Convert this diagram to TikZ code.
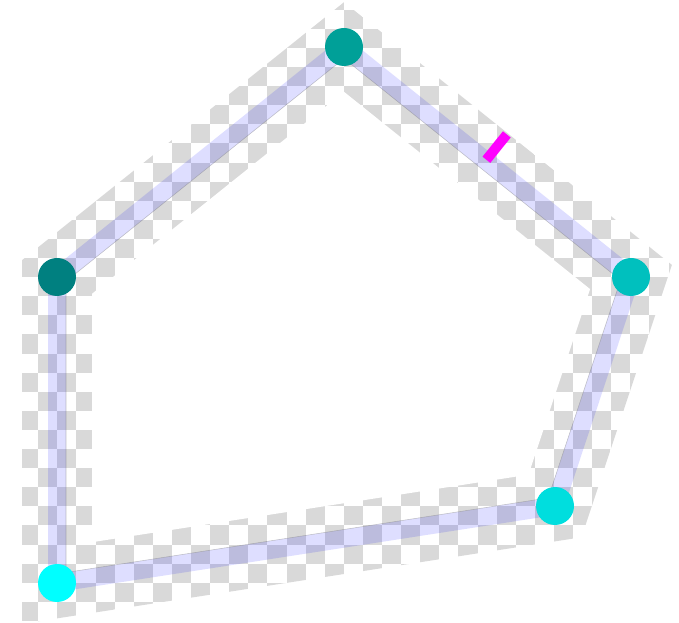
\documentclass[tikz,border=0pt]{standalone}
\definecolor{chk}{RGB}{217,217,217}
\definecolor{dotE}{RGB}{0,128,128}
\definecolor{dotA}{RGB}{0,160,152}
\definecolor{dotB}{RGB}{0,192,190}
\definecolor{dotC}{RGB}{0,222,222}
\definecolor{dotD}{RGB}{0,255,255}
\definecolor{tickcol}{RGB}{255,0,255}
\definecolor{lavcol}{RGB}{0,0,255}
\begin{document}
\begin{tikzpicture}[x=0.75pt,y=-0.75pt,
  checker/.style={fill=chk},
  lav/.style={draw=lavcol,opacity=0.13,line width=13.5pt,line join=round},
  rim/.style={draw=gray,opacity=0.45,line width=0.4pt},
  dot/.style={circle,inner sep=0pt,minimum size=28.5pt,draw=none},
  tickmark/.style={draw=tickcol,line width=7.5pt}]
\useasboundingbox (0,0) rectangle (679,623);
% vertices
\coordinate (a) at (344,47);
\coordinate (b) at (631,277);
\coordinate (c) at (555,506);
\coordinate (d) at (57,583);
\coordinate (e) at (57,277);
% checkered band
\begin{scope}
  \clip (344,2.2) -- (671.9,264.9) -- (581.5,537.3) -- (22,623.8) -- (22,260.2) -- cycle;
  \foreach \i in {0,...,35}{
    \foreach \j in {-1,...,32}{
      \pgfmathparse{int(mod(\i+\j,2))}
      \ifnum\pgfmathresult=0
        \fill[checker] (\i*19.1, 9.8+\j*19.1) rectangle ++(19.1,19.1);
      \fi
    }
  }
\end{scope}
\fill[white] (344,91.8) -- (590.1,289.1) -- (528.5,474.7) -- (92,542.2) -- (92,293.8) -- cycle;
% translucent outline
\draw[lav] (a) -- (b) -- (c) -- (d) -- (e) -- cycle;
\draw[rim] (344,58.5) -- (620.5,280.1) -- (548.2,497.9) -- (66,572.5) -- (66,281.3) -- cycle;
% tick mark on edge a-b
\coordinate (t1) at (486.4,159.8);
\coordinate (t2) at (506.8,134.4);
\draw[tickmark] (t1) -- (t2);
% vertex dots
\node[dot,fill=dotA] (na) at (a) {};
\node[dot,fill=dotB] (nb) at (b) {};
\node[dot,fill=dotC] (nc) at (c) {};
\node[dot,fill=dotD] (nd) at (d) {};
\node[dot,fill=dotE] (ne) at (e) {};
\end{tikzpicture}
\end{document}
